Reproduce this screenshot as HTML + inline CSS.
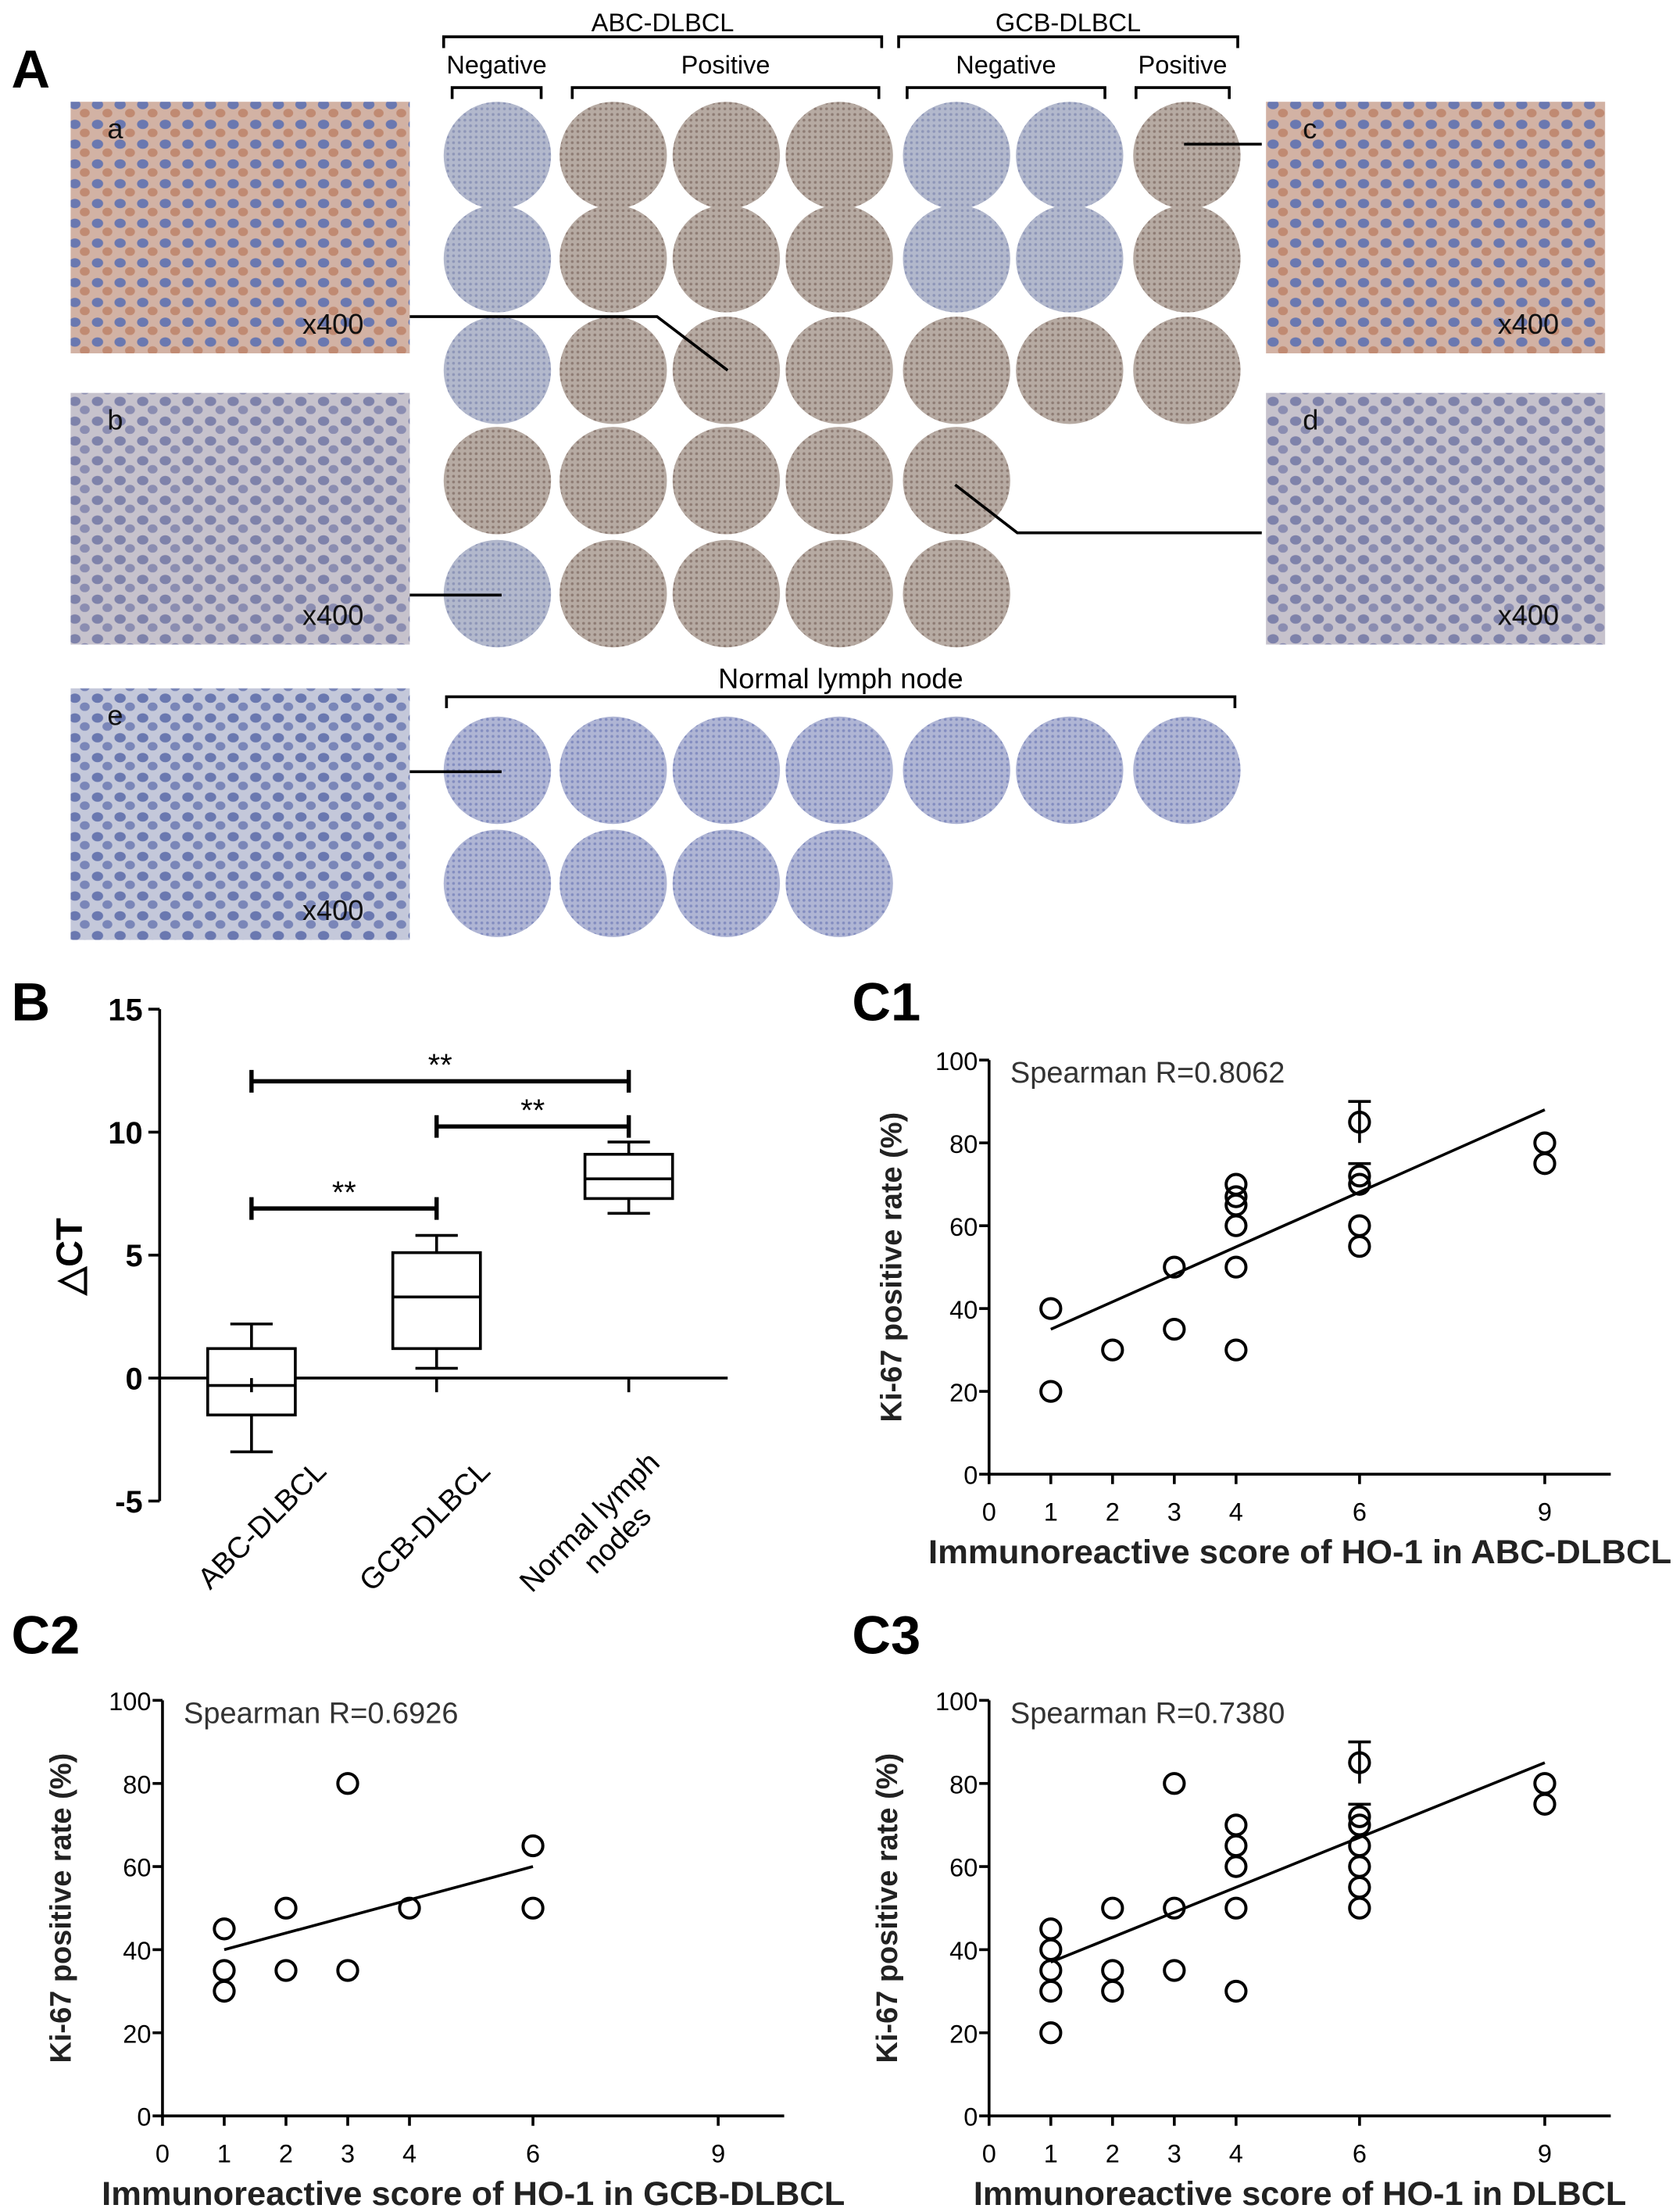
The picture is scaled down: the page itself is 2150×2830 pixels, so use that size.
<!DOCTYPE html>
<html><head><meta charset="utf-8"><style>
html,body{margin:0;padding:0;background:#fff}
svg{display:block}
text{font-family:"Liberation Sans",Arial,sans-serif}
</style></head><body>
<svg id="fig" width="2150" height="2830" viewBox="0 0 1189 1565" preserveAspectRatio="none" xmlns="http://www.w3.org/2000/svg">
<defs>
<pattern id="cellsBlue" width="16" height="14" patternUnits="userSpaceOnUse">
<rect width="16" height="14" fill="#c4c8da"/><ellipse cx="5" cy="4" rx="4" ry="3.3" fill="#6a78b0"/><ellipse cx="12" cy="10" rx="3.5" ry="3" fill="#7a86b8"/></pattern>
<pattern id="cellsMix" width="16" height="14" patternUnits="userSpaceOnUse">
<rect width="16" height="14" fill="#d2b2a4"/><ellipse cx="5" cy="4" rx="4" ry="3.3" fill="#6a78b0"/><ellipse cx="12" cy="10" rx="3.5" ry="3" fill="#c08a72"/></pattern>
<pattern id="coreNeg" width="4" height="4" patternUnits="userSpaceOnUse"><rect width="4" height="4" fill="#b2b8cc"/><circle cx="1" cy="1" r="1" fill="#8e96b8"/></pattern>
<pattern id="corePos" width="4" height="4" patternUnits="userSpaceOnUse"><rect width="4" height="4" fill="#b6aaa2"/><circle cx="1" cy="1" r="1" fill="#8e7c74"/></pattern>
<pattern id="coreNorm" width="4" height="4" patternUnits="userSpaceOnUse"><rect width="4" height="4" fill="#afb5d4"/><circle cx="1" cy="1" r="1" fill="#838dc0"/></pattern>
</defs>
<g id="panelA"></g>
<g id="panelB"></g>
<g id="panelC"></g>
</svg>
<script>
const NS="http://www.w3.org/2000/svg";
function mk(parent,tag,attrs,txt){const e=document.createElementNS(NS,tag);for(const k in attrs)e.setAttribute(k,attrs[k]);if(txt!==undefined)e.textContent=txt;parent.appendChild(e);return e;}

// ---------- Panel A ----------
const A=document.getElementById('panelA');
let t=mk(A,'text',{x:8,y:62,'font-size':38,'font-weight':'bold'},'A');


const micro=[["a",50,72,"cellsMix"],["b",50,278,"cellsBlue"],["e",50,487,"cellsBlue"],["c",896,72,"cellsMix"],["d",896,278,"cellsBlue"]];
micro.forEach(m=>{
  const r=mk(A,'rect',{x:m[1],y:m[2],width:240,height:178,fill:'url(#'+m[3]+')'});
  
  
  if(m[0]=='b'||m[0]=='d'){mk(A,'rect',{x:m[1],y:m[2],width:240,height:178,fill:'#d0a898',opacity:0.2});}
  const l=mk(A,'text',{x:m[1]+26,y:m[2]+26,'font-size':20,fill:'#111'},m[0]);
  
  
  const z=mk(A,'text',{x:m[1]+164,y:m[2]+164,'font-size':20,fill:'#111'},'x400');
  
  
});
const colX=[352,434,514,594,677,757,840];
const rowY=[110,183,262,340,420];
const coreType=[["n","p","p","p","n","n","p"],["n","p","p","p","n","n","p"],["n","p","p","p","p","p","p"],["p","p","p","p","p"],["n","p","p","p","p"]];
coreType.forEach((row,ri)=>row.forEach((ty,ci)=>{
  const c=mk(A,'circle',{cx:colX[ci],cy:rowY[ri],r:38,fill:ty=='n'?'url(#coreNeg)':'url(#corePos)'});
  
  
}));
[[545,7],[625,4]].forEach(rw=>{for(let i=0;i<rw[1];i++){
  const c=mk(A,'circle',{cx:colX[i],cy:rw[0],r:38,fill:'url(#coreNorm)'});
  
  
}});
function bracket(x1,x2,y,label,ly,fs){
  mk(A,'path',{d:`M${x1},${y+8}V${y}H${x2}V${y+8}`,fill:'none',stroke:'#000','stroke-width':2});
  const tt=mk(A,'text',{x:(x1+x2)/2,y:ly,'font-size':fs,'text-anchor':'middle'},label);
  
  
}
bracket(314,624,26,'ABC-DLBCL',22,18);
bracket(636,876,26,'GCB-DLBCL',22,18);
bracket(320,383,62,'Negative',52,18);
bracket(405,622,62,'Positive',52,18);
bracket(642,782,62,'Negative',52,18);
bracket(804,870,62,'Positive',52,18);
bracket(316,874,493,'Normal lymph node',487,20);
[[ "M290,224H465L515,262"],["M290,421H355"],["M838,102H893"],["M676,343L720,377H893"],["M290,546H355"]].forEach(d=>{
  const p=mk(A,'path',{d:d[0],fill:'none',stroke:'#000','stroke-width':2});
  
  
});

// ---------- Panel B ----------
const B=document.getElementById('panelB');
const bCats=["ABC-DLBCL","GCB-DLBCL","Normal lymph nodes"];
const bMin=[-3,0.4,6.7], bQ1=[-1.5,1.2,7.3], bMed=[-0.3,3.3,8.1], bQ3=[1.2,5.1,9.1], bMax=[2.2,5.8,9.6];
const bTicks=[15,10,5,0,-5];
const bX=[178,309,445];
const yB=v=>975-v*17.4;
t=mk(B,'text',{x:8,y:722,'font-size':38,'font-weight':'bold'},'B');


mk(B,'line',{x1:113,y1:yB(15),x2:113,y2:yB(-5),stroke:'#000','stroke-width':2});
mk(B,'line',{x1:113,y1:yB(0),x2:515,y2:yB(0),stroke:'#000','stroke-width':2});
bTicks.forEach(v=>{
  mk(B,'line',{x1:105,y1:yB(v),x2:113,y2:yB(v),stroke:'#000','stroke-width':2});
  const tt=mk(B,'text',{x:101,y:yB(v)+8,'font-size':22,'font-weight':'bold','text-anchor':'end'},String(v));
  
  
});
t=mk(B,'text',{x:0,y:0,'font-size':26,'font-weight':'bold','text-anchor':'middle',transform:'translate(58,889) rotate(-90)'},'△CT');


bCats.forEach((c,i)=>{
  const x=bX[i];
  const g=mk(B,'g',{});
  
  
  mk(g,'line',{x1:x,y1:yB(bMin[i]),x2:x,y2:yB(bMax[i]),stroke:'#000','stroke-width':2});
  mk(g,'rect',{x:x-31,y:yB(bQ3[i]),width:62,height:yB(bQ1[i])-yB(bQ3[i]),fill:'#fff',stroke:'#000','stroke-width':2});
  mk(g,'line',{x1:x-31,y1:yB(bMed[i]),x2:x+31,y2:yB(bMed[i]),stroke:'#000','stroke-width':2});
  mk(g,'line',{x1:x-15,y1:yB(bMin[i]),x2:x+15,y2:yB(bMin[i]),stroke:'#000','stroke-width':2});
  mk(g,'line',{x1:x-15,y1:yB(bMax[i]),x2:x+15,y2:yB(bMax[i]),stroke:'#000','stroke-width':2});
  mk(B,'line',{x1:x,y1:yB(0),x2:x,y2:yB(0)+10,stroke:'#000','stroke-width':2});
});
const labPos=[[[232,1042]],[[348,1042]],[[468,1036],[462,1074]]];
const labs=[["ABC-DLBCL"],["GCB-DLBCL"],["Normal lymph","nodes"]];
labs.forEach((ls,i)=>{
  ls.forEach((s,j)=>{
    const p=labPos[i][j];
    const tt=mk(B,'text',{x:0,y:0,'font-size':21,'text-anchor':'end',transform:`translate(${p[0]},${p[1]}) rotate(-45)`},s);
    
    
  });
});
const sig=[[0,2,765],[1,2,797],[0,1,855]];
sig.forEach(s=>{
  const x1=bX[s[0]],x2=bX[s[1]],y=s[2];
  mk(B,'path',{d:`M${x1},${y-8}V${y+8}M${x1},${y}H${x2}M${x2},${y-8}V${y+8}`,fill:'none',stroke:'#000','stroke-width':3});
  const tt=mk(B,'text',{x:(x1+x2)/2,y:y-4,'font-size':22,'text-anchor':'middle'},'**');
  
  
});

// ---------- Panel C ----------
const C=document.getElementById('panelC');
const c1X=[1,1,2,3,3,4,4,4,4,4,4,6,6,6,6,6,9,9];
const c1Y=[40,20,30,50,35,70,67,65,60,50,30,85,72,70,60,55,80,75];
const c2X=[1,1,1,2,2,3,3,4,6,6];
const c2Y=[45,35,30,50,35,80,35,50,65,50];
const c3X=[1,1,1,1,1,2,2,2,3,3,3,4,4,4,4,4,6,6,6,6,6,6,6,9,9];
const c3Y=[45,40,35,30,20,50,35,30,80,50,35,70,65,60,50,30,85,72,70,65,60,55,50,80,75];
const xTicks=[0,1,2,3,4,6,9];
const yTicks=[0,20,40,60,80,100];
const fits=[[35,88,1,9],[40,60,1,6],[37,85,1,9]];
const rVals=["0.8062","0.6926","0.7380"];
function scatter(ox,top,bot,lab,lx,ly,xs,ys,fit,rv,title,ylx,name){
  const g=mk(C,'g',{});
  
  
  const xs_=v=>ox+v*43.7, ys_=v=>bot-(bot-top)*v/100;
  const tl=mk(g,'text',{x:lx,y:ly,'font-size':38,'font-weight':'bold'},lab);
  
  
  mk(g,'line',{x1:ox,y1:top,x2:ox,y2:bot,stroke:'#000','stroke-width':2});
  mk(g,'line',{x1:ox,y1:bot,x2:ox+440,y2:bot,stroke:'#000','stroke-width':2});
  yTicks.forEach(v=>{
    mk(g,'line',{x1:ox-7,y1:ys_(v),x2:ox,y2:ys_(v),stroke:'#000','stroke-width':2});
    const tt=mk(g,'text',{x:ox-8,y:ys_(v)+7,'font-size':18,'text-anchor':'end'},String(v));
    
    
  });
  xTicks.forEach(v=>{
    mk(g,'line',{x1:xs_(v),y1:bot,x2:xs_(v),y2:bot+7,stroke:'#000','stroke-width':2});
    const tt=mk(g,'text',{x:xs_(v),y:bot+33,'font-size':18,'text-anchor':'middle'},String(v));
    
    
  });
  xs.forEach((x,i)=>{
    const c=mk(g,'circle',{cx:xs_(x),cy:ys_(ys[i]),r:7,fill:'none',stroke:'#000','stroke-width':2.2});
    
    
  });
  mk(g,'line',{x1:xs_(fit[2]),y1:ys_(fit[0]),x2:xs_(fit[3]),y2:ys_(fit[1]),stroke:'#000','stroke-width':2});
  const st=mk(g,'text',{x:ox+15,y:top+16,'font-size':21,fill:'#333'},'Spearman R='+rv);
  
  
  const xt=mk(g,'text',{x:ox+220,y:bot+63,'font-size':23.5,'font-weight':'bold','text-anchor':'middle',fill:'#222',textLength:526,lengthAdjust:'spacingAndGlyphs'},title);
  if(name==='scatter-c3'){xt.setAttribute('textLength',462);}
  
  
  const yt=mk(g,'text',{x:0,y:0,'font-size':21,'font-weight':'bold','text-anchor':'middle',fill:'#222',transform:`translate(${ylx},${(top+bot)/2}) rotate(-90)`},'Ki-67 positive rate (%)');
  
  
  return {xs_,ys_,g};
}
const s1=scatter(700,750,1043,'C1',603,722,c1X,c1Y,fits[0],rVals[0],'Immunoreactive score of HO-1 in ABC-DLBCL',638,'scatter-c1');
scatter(115,1203,1497,'C2',8,1170,c2X,c2Y,fits[1],rVals[1],'Immunoreactive score of HO-1 in GCB-DLBCL',50,'scatter-c2');
const s3=scatter(700,1203,1497,'C3',603,1170,c3X,c3Y,fits[2],rVals[2],'Immunoreactive score of HO-1 in DLBCL',635,'scatter-c3');
const errLo=80, errHi=90;
[s1,s3].forEach(s=>{
  const x=s.xs_(6);
  const e=mk(s.g,'path',{d:`M${x},${s.ys_(errLo)}V${s.ys_(errHi)}M${x-8},${s.ys_(errHi)}H${x+8}M${x-8},${s.ys_(75)}H${x+8}`,fill:'none',stroke:'#000','stroke-width':2});
  
  
});
</script>
</body></html>
